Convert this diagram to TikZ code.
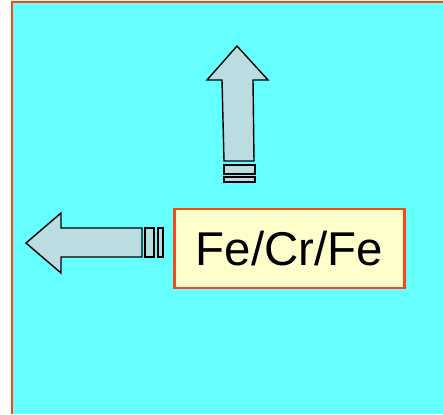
\documentclass[tikz,border=0pt]{standalone}
\usepackage{fontspec}
\setmainfont{Liberation Sans}
\usetikzlibrary{positioning}
\definecolor{aqua}{HTML}{66FFFF}
\definecolor{rim}{HTML}{FF4418}
\definecolor{cream}{HTML}{FFFFCC}
\definecolor{steel}{HTML}{BBDDE2}
\tikzset{every node/.style={font=\fontsize{27}{32}\selectfont},
 sample/.style={draw=rim,fill=cream,line width=1.4pt,inner sep=0pt,minimum width=231pt*0.5669,minimum height=79pt*0.5669},
 arrowbody/.style={draw=black,fill=steel,line width=.8pt,line join=miter},
 ring/.style={draw=black,fill=steel,line width=.8pt}}
\begin{document}
\begin{tikzpicture}[x=0.02cm,y=-0.02cm]

\path[use as bounding box] (0,0) rectangle (443,414);
\fill[aqua] (12,2) rectangle (443,414);
\draw[rim,line width=1.4pt] (12,414)--(12,2)--(443,2);
% up arrow
\draw[arrowbody] (237,46)--(268,80)--(253,80)--(254,161)--(224,161)--(222,80)--(207,80)--cycle;
\draw[ring] (224,165) rectangle (255,174);
\draw[ring] (224,177) rectangle (255,182);
% left arrow
\draw[arrowbody] (26,243)--(61,213)--(61,228)--(142,228)--(142,257)--(61,257)--(61,273)--cycle;
\draw[ring] (145,228) rectangle (154,257);
\draw[ring] (158,228) rectangle (163,257);
\node[sample] (fecrfe) at (289.5,248.5) {Fe/Cr/Fe};

\end{tikzpicture}
\end{document}
